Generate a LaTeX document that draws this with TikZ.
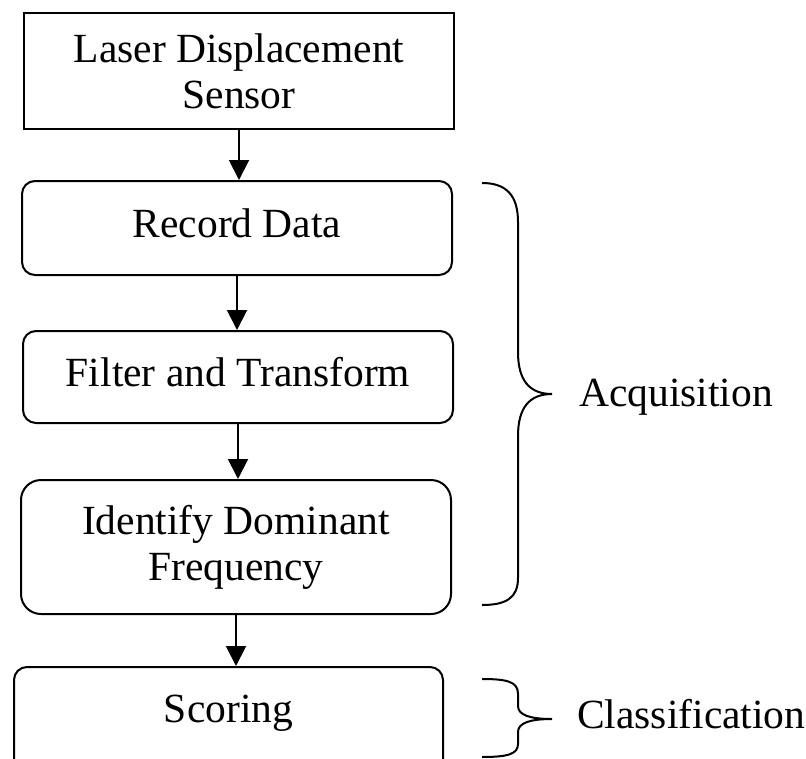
\documentclass[tikz,border=0pt]{standalone}
\usepackage{fontspec}
\setmainfont{Liberation Serif}
\usetikzlibrary{arrows.meta}
\tikzset{
  box/.style={draw, line width=2pt, minimum width=430pt, inner sep=0pt, align=center,
    font=\fontsize{41.5pt}{46pt}\selectfont},
  rbox/.style={box, rounded corners=13pt},
  oneline/.style={text height=30pt, text depth=12pt},
  flow/.style={line width=2pt, -{Triangle[width=20pt,length=20pt]}},
  brace/.style={line width=2pt, line join=miter},
  lbl/.style={anchor=base west, inner sep=0pt, font=\fontsize{41.5pt}{46pt}\selectfont}
}
\begin{document}
\begin{tikzpicture}[x=1pt,y=-1pt]
\useasboundingbox (0,0) rectangle (806,758);
\clip (0,0) rectangle (806,758);
\node[box, minimum height=116pt] (sensor) at (239,71) {Laser Displacement\\Sensor};
\node[rbox, oneline, minimum height=94pt] (record) at (237,228) {Record Data};
\node[rbox, oneline, minimum height=92pt] (filter) at (238,377) {Filter and Transform};
\node[rbox, rounded corners=20pt, minimum height=134pt] (identify) at (236,547) {Identify Dominant\\Frequency};
\node[rbox, text height=30pt, text depth=30pt, minimum width=429pt, minimum height=110pt] (scoring) at (228.5,722) {Scoring};
\draw[flow] (sensor.south) -- (sensor.south |- record.north);
\draw[flow] (record.south) -- (record.south |- filter.north);
\draw[flow] (filter.south) -- (filter.south |- identify.north);
\draw[flow] (identify.south) -- (identify.south |- scoring.north);
\draw[brace] (482,183) .. controls (506,183) and (518,195) .. (518,222) -- (518,352)
  .. controls (518,381) and (530,394) .. (552,394)
  .. controls (530,394) and (518,407) .. (518,436) -- (518,578)
  .. controls (518,598) and (506,605) .. (482,605);
\draw[brace] (482,679) .. controls (508,679) and (518,682) .. (518,694) -- (518,706)
  .. controls (518,715) and (530,719) .. (552,719)
  .. controls (530,719) and (518,723) .. (518,732) -- (518,744)
  .. controls (518,754) and (508,757) .. (482,757);
\node[lbl] (acq) at (579,406) {Acquisition};
\node[lbl] (cls) at (577,728) {Classification};
\end{tikzpicture}
\end{document}
